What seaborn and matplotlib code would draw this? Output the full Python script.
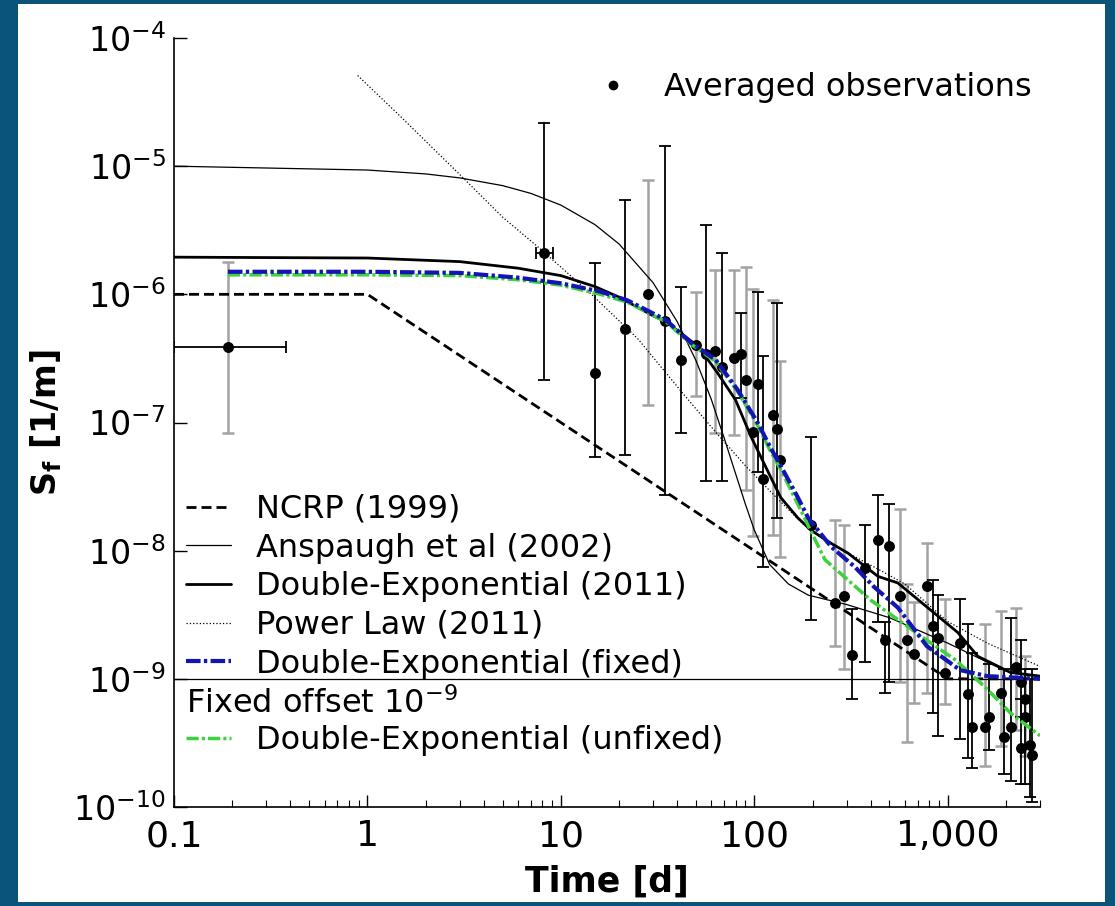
import numpy as np
import pandas as pd
import matplotlib
matplotlib.use("Agg")
import matplotlib.pyplot as plt
import seaborn as sns
from matplotlib.lines import Line2D
from matplotlib.patches import Rectangle
from matplotlib.ticker import LogLocator, NullLocator

# ---------------- data ----------------
# averaged observations: time [d], S_f [1/m], lower / upper error, grey (True) or black error bar
obs_t = [0.19, 8.2, 15.0, 21.4, 28.1, 34.7, 42, 49.7, 56.6, 63, 68, 78.9, 85.8, 91, 98, 105, 111,
         125, 131.5, 136, 197, 262, 291, 320, 373, 436, 497, 473, 566, 615, 668, 780, 838, 888,
         966, 1153, 1268, 1330, 1552, 1627, 1875, 1966, 2113, 2243, 2379, 2495, 2379, 2648, 2743, 2495]
obs_s = [3.9e-7, 2.1e-6, 2.44e-7, 5.4e-7, 1.0e-6, 6.2e-7, 3.1e-7, 4.0e-7, 3.4e-7, 3.6e-7, 2.7e-7,
         3.2e-7, 3.4e-7, 2.15e-7, 8.5e-8, 2.0e-7, 3.6e-8, 1.15e-7, 8.9e-8, 5.1e-8, 1.6e-8, 3.9e-9,
         4.4e-9, 1.54e-9, 7.3e-9, 1.21e-8, 1.09e-8, 2.0e-9, 4.4e-9, 2.0e-9, 1.55e-9, 5.3e-9, 2.6e-9,
         2.1e-9, 1.12e-9, 1.9e-9, 7.6e-10, 4.2e-10, 4.2e-10, 5.0e-10, 7.7e-10, 3.5e-10, 4.2e-10,
         1.24e-9, 9.5e-10, 5.0e-10, 2.9e-10, 3.05e-10, 2.55e-10, 6.9e-10]
obs_lo = [8.3e-8, 2.15e-7, 5.4e-8, 5.6e-8, 1.37e-7, 2.7e-8, 8.3e-8, 1.6e-7, 3.5e-8, 8.3e-8, 3.5e-8,
          8.0e-8, 1.55e-7, 3.0e-8, 1.3e-8, 4.1e-8, 7.5e-9, 1.33e-8, 1.8e-8, 9e-9, 2.9e-9, 1.8e-9,
          1.2e-9, 7.0e-10, 1.35e-9, 2.8e-9, 9.5e-10, 7.7e-10, 9.5e-10, 3.2e-10, 6.5e-10, 7.7e-10,
          5.4e-10, 3.6e-10, 6.4e-10, 3.4e-10, 2.4e-10, 2.0e-10, 2.1e-10, 2.8e-10, 3.0e-10, 1.8e-10,
          1.6e-10, 4.0e-10, 5.0e-10, 1.5e-10, 1.5e-10, 1.2e-10, 1.1e-10, 2.5e-10]
obs_hi = [1.8e-6, 2.17e-5, 1.76e-6, 5.4e-6, 7.8e-6, 1.44e-5, 1.15e-6, 1.05e-6, 3.5e-6, 1.55e-6, 2.1e-6,
          1.55e-6, 7.2e-7, 1.64e-6, 1.1e-6, 1.05e-6, 3.3e-7, 9e-7, 8.5e-7, 3.0e-7, 7.7e-8, 1.74e-8,
          1.6e-8, 3.5e-9, 1.6e-8, 2.7e-8, 2.3e-8, 2.8e-9, 2.1e-8, 5.5e-9, 4.0e-9, 1.14e-8, 5.9e-9,
          4.5e-9, 4.2e-9, 4.2e-9, 2.7e-9, 1.6e-9, 2.7e-9, 1.3e-9, 3.4e-9, 1.2e-9, 3.0e-9, 3.6e-9,
          2.0e-9, 1.2e-9, 7.0e-10, 1.0e-9, 1.2e-9, 1.5e-9]
obs_grey = [True, False, False, False, True, False, False, True, False, True, False,
            True, False, True, True, False, False, True, False, True, False, True,
            True, False, False, False, False, False, True, True, True, True, False,
            False, True, False, False, False, True, False, True, False, False, True,
            False, False, False, False, False, True]

# horizontal (time) error bars
hx_t = [0.19, 8.2]
hx_s = [3.9e-7, 2.1e-6]
hx_lo = [0.1, 7.4]
hx_hi = [0.38, 9.1]

# model curves
ncrp_t = [0.1, 1, 1000, 3000]
ncrp_s = [1e-6, 1e-6, 1e-9, 1e-9]

ansp_t = [0.1, 1, 2, 3, 5, 7, 10, 15, 20, 30, 40, 50, 60, 70, 80, 90, 100, 120, 150, 190, 300,
          500, 1000, 2000, 3000]
ansp_s = [1.0e-5, 9.33e-6, 8.7e-6, 8.1e-6, 7.05e-6, 6.13e-6, 4.97e-6, 3.5e-6, 2.47e-6, 1.23e-6,
          6.1e-7, 3.03e-7, 1.51e-7, 7.5e-8, 4.0e-8, 2.3e-8, 1.45e-8, 7.8e-9, 5.5e-9, 4.5e-9, 3.8e-9,
          3.0e-9, 1.9e-9, 1.15e-9, 1.04e-9]

de11_t = [0.1, 1, 3, 6, 10, 15, 20, 30, 35, 51.5, 65, 80, 96, 121, 137, 168, 197, 250, 304, 436,
          552, 1127, 1430, 2113, 3000]
de11_s = [1.95e-6, 1.92e-6, 1.8e-6, 1.6e-6, 1.4e-6, 1.15e-6, 9.5e-7, 6.8e-7, 6.1e-7, 3.9e-7, 2.4e-7,
          1.5e-7, 7.8e-8, 3.8e-8, 2.6e-8, 1.8e-8, 1.44e-8, 1.14e-8, 9.6e-9, 6.3e-9, 5.6e-9, 2.3e-9,
          1.5e-9, 1.12e-9, 1.05e-9]

pl_t = [0.89, 1.5, 3.1, 5, 8, 14.4, 25, 44, 65, 90, 130, 180, 232, 330, 450, 600, 1000, 1600, 3000]
pl_s = [5.1e-5, 2.4e-5, 8.2e-6, 4.0e-6, 2.2e-6, 1.0e-6, 4.5e-7, 1.6e-7, 8.0e-8, 4.6e-8, 2.6e-8,
        1.6e-8, 1.2e-8, 9.0e-9, 7.0e-9, 5.5e-9, 2.8e-9, 1.9e-9, 1.25e-9]

fix_t = [0.19, 1, 3, 6, 10, 16, 22, 35, 47, 63, 82, 104, 121, 138, 168, 190, 250, 330, 417, 552,
         780, 1160, 1600, 3000]
fix_s = [1.5e-6, 1.5e-6, 1.47e-6, 1.35e-6, 1.22e-6, 1.05e-6, 9e-7, 6.3e-7, 4.2e-7, 3.1e-7, 1.8e-7,
         1.0e-7, 6.4e-8, 4.5e-8, 2.6e-8, 1.8e-8, 1.07e-8, 7.5e-9, 5.2e-9, 3.6e-9, 1.8e-9, 1.17e-9,
         1.05e-9, 1.0e-9]

unf_t = [0.19, 1, 3, 6, 10, 16, 22, 35, 47, 63, 82, 104, 121, 138, 168, 197, 232, 305, 401, 552,
         780, 1100, 1550, 2113, 3000]
unf_s = [1.42e-6, 1.42e-6, 1.4e-6, 1.3e-6, 1.18e-6, 1.0e-6, 8.7e-7, 6.1e-7, 4.1e-7, 3.0e-7, 1.75e-7,
         9.5e-8, 6.0e-8, 4.2e-8, 2.3e-8, 1.4e-8, 8.5e-9, 5.9e-9, 4.1e-9, 2.9e-9, 2.0e-9, 1.4e-9,
         8.7e-10, 5.4e-10, 3.6e-10]

fixed_offset = 1e-9

x_ticks = [0.1, 1, 10, 100, 1000]
x_tick_labels = ["0.1", "1", "10", "100", "1,000"]
y_ticks = [1e-10, 1e-9, 1e-8, 1e-7, 1e-6, 1e-5, 1e-4]
y_tick_labels = [r"$10^{-10}$", r"$10^{-9}$", r"$10^{-8}$", r"$10^{-7}$",
                 r"$10^{-6}$", r"$10^{-5}$", r"$10^{-4}$"]

legend_labels = ["NCRP (1999)", "Anspaugh et al (2002)", "Double-Exponential (2011)",
                 "Power Law (2011)", "Double-Exponential (fixed)"]
offset_label = r"Fixed offset 10$^{\mathregular{-9}}$"
unfixed_label = "Double-Exponential (unfixed)"
obs_label = "Averaged observations"

# ---------------- style ----------------
sns.set_style("ticks")
plt.rcParams["font.family"] = ["DejaVu Sans"]
plt.rcParams["mathtext.fontset"] = "dejavusans"
plt.rcParams["text.color"] = "black"
plt.rcParams["axes.labelcolor"] = "black"

W, H = 1115, 906
fig = plt.figure(figsize=(W / 100, H / 100), dpi=100)
fig.patch.set_facecolor("#0b5479")
fig.patches.append(Rectangle((18 / W, 4 / H), (1105 - 18) / W, (902 - 4) / H,
                             transform=fig.transFigure, facecolor="white",
                             edgecolor="none", zorder=-10))

L, R, T, B = 174, 1040, 38, 807
ax = fig.add_axes([L / W, 1 - B / H, (R - L) / W, (B - T) / H])
ax.set_zorder(1)
ax.set_facecolor("white")
ax.set_xscale("log")
ax.set_yscale("log")

BLUE = "#1414b4"
GREEN = "#3bd23b"
GREY = "#a3a3a3"

obs = pd.DataFrame(dict(t=obs_t, s=obs_s, lo=obs_lo, hi=obs_hi, grey=obs_grey))

# error bars
for flag, col, lw in [(True, GREY, 1.8), (False, "black", 1.3)]:
    d = obs[obs.grey == flag]
    ax.errorbar(d.t, d.s, yerr=[d.s - d.lo, d.hi - d.s], fmt="none", ecolor=col,
                elinewidth=lw, capsize=4.3, capthick=lw, zorder=2)
hx = pd.DataFrame(dict(t=hx_t, s=hx_s, lo=hx_lo, hi=hx_hi))
ax.errorbar(hx.t, hx.s, xerr=[hx.t - hx.lo, hx.hi - hx.t], fmt="none", ecolor="black",
            elinewidth=1.3, capsize=4.3, capthick=1.3, zorder=2)

# points
sns.scatterplot(data=obs, x="t", y="s", color="black", s=62, linewidth=0,
                zorder=3, ax=ax, legend=False)

# fixed offset line
ax.axhline(fixed_offset, color="black", lw=0.9, zorder=2.5)


def curve(t, s, color, lw, dashes=None, ls="-"):
    sns.lineplot(x=t, y=s, ax=ax, color=color, lw=lw, linestyle=ls,
                 estimator=None, sort=False, zorder=4)
    line = ax.lines[-1]
    if dashes is not None:
        line.set_dashes(dashes)
    return line


curve(ncrp_t, ncrp_s, "black", 2.0, dashes=(3.6, 1.8))
curve(ansp_t, ansp_s, "black", 0.9)
curve(pl_t, pl_s, "black", 0.9, ls=":")
curve(de11_t, de11_s, "black", 2.0)
curve(unf_t, unf_s, GREEN, 2.5, dashes=(3.5, 0.9, 0.9, 0.9))
curve(fix_t, fix_s, BLUE, 3.0, dashes=(3.5, 0.8, 0.8, 0.8))

# axes
ax.set_xlim(0.1, 3000)
ax.set_ylim(1e-10, 1e-4)
ax.set_xticks(x_ticks)
ax.set_xticklabels(x_tick_labels, fontsize=26)
ax.xaxis.set_minor_locator(LogLocator(base=10, subs=np.arange(2, 10)))
ax.set_yticks(y_ticks)
ax.set_yticklabels(y_tick_labels, fontsize=24)
ax.yaxis.set_minor_locator(NullLocator())
ax.tick_params(axis="both", which="major", direction="in", length=9, width=1,
               color="black", labelcolor="black")
ax.tick_params(axis="x", which="major", pad=9)
ax.tick_params(axis="y", which="major", pad=6)
ax.tick_params(axis="x", which="minor", direction="in", length=5, width=0.8, color="black")
for sp in ["top", "right"]:
    ax.spines[sp].set_visible(False)
for sp in ["left", "bottom"]:
    ax.spines[sp].set_color("black")
    ax.spines[sp].set_linewidth(1.2)

ax.set_xlabel("Time [d]", fontsize=25, fontweight="bold", color="black")
ax.set_ylabel(r"S$_\mathbf{f}$ [1/m]", fontsize=24, fontweight="bold", color="black")
ax.xaxis.set_label_coords(0.5, -0.075)
ax.yaxis.set_label_coords(-0.127, 0.5)

# legends
h = [Line2D([], [], color="black", lw=2.0, dashes=(3.6, 1.8)),
     Line2D([], [], color="black", lw=0.9),
     Line2D([], [], color="black", lw=2.0),
     Line2D([], [], color="black", lw=0.9, ls=":"),
     Line2D([], [], color=BLUE, lw=3.0, dashes=(3.5, 0.8, 0.8, 0.8))]
lx = (186 - L) / (R - L)
leg1 = ax.legend(h, legend_labels, loc="upper left",
                 bbox_to_anchor=(lx, (B - 494) / (B - T)), frameon=False, fontsize=23,
                 handlelength=1.4, handletextpad=0.8, labelspacing=0.24,
                 borderpad=0, borderaxespad=0, labelcolor="black")
ax.add_artist(leg1)
ax.text(lx, (B - 704) / (B - T), offset_label, transform=ax.transAxes, fontsize=23,
        ha="left", va="center", color="black")
leg2 = ax.legend([Line2D([], [], color=GREEN, lw=2.5, dashes=(3.5, 0.9, 0.9, 0.9))],
                 [unfixed_label], loc="upper left",
                 bbox_to_anchor=(lx, (B - 725) / (B - T)), frameon=False, fontsize=23,
                 handlelength=1.4, handletextpad=0.8, borderpad=0, borderaxespad=0,
                 labelcolor="black")
ax.add_artist(leg2)
ax.legend([Line2D([], [], color="black", marker="o", ls="none", markersize=6)], [obs_label],
          loc="upper left", bbox_to_anchor=((597 - L) / (R - L), (B - 72) / (B - T)),
          frameon=False, fontsize=23, handlelength=1.0, handletextpad=1.1,
          borderpad=0, borderaxespad=0, labelcolor="black")

fig.savefig("out.png", dpi=100, facecolor=fig.get_facecolor())
